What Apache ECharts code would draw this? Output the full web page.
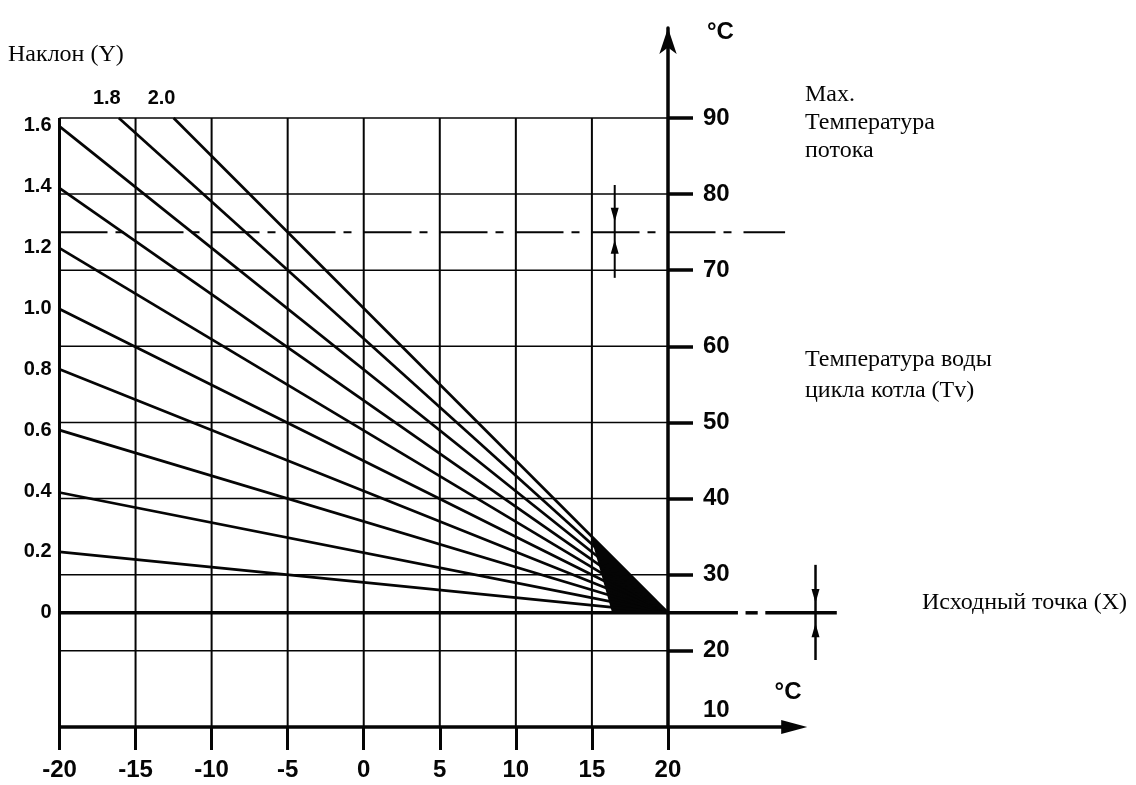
<!DOCTYPE html>
<html>
<head>
<meta charset="utf-8">
<title>Кривые нагрева</title>
<script src="https://cdn.jsdelivr.net/npm/echarts@6/dist/echarts.min.js"></script>
<style>
  html, body { margin: 0; padding: 0; background: #fff; }
  #chart { width: 1136px; height: 785px; }
</style>
</head>
<body>
<div id="chart"></div>
<script>
// outside temperature (°C), bottom axis
const xTicks = [-20, -15, -10, -5, 0, 5, 10, 15, 20]
// boiler water temperature (°C), right axis
const tempTicks = [10, 20, 30, 40, 50, 60, 70, 80, 90]
// slope values written on the left
const slopeTicks = [0, 0.2, 0.4, 0.6, 0.8, 1.0, 1.2, 1.4, 1.6]
// heating curves: start point [outside temp, flow temp], all meet in basePoint
const curveNames = ['0.2', '0.4', '0.6', '0.8', '1.0', '1.2', '1.4', '1.6', '1.8', '2.0']
const curveStarts = [[-20, 33], [-20, 40.8], [-20, 49], [-20, 57], [-20, 64.9], [-20, 72.9], [-20, 80.8], [-20, 88.9], [-16.1, 90], [-12.5, 90]]
const basePoint = [20, 25]
// dark wedge where the curves run together
const wedge = [[14.9, 35.2], [16.3, 25.2], [20, 25]]
// thick base line (X) pieces, in outside temp units
const baseSegments = [[-20, 24.6], [25.1, 25.9], [26.4, 31.1]]
// max flow temperature line
const maxFlowTemp = 75
const maxFlowEnd = 27.7
// adjust markers: x, top, bottom, arrow heads [down, up]
const maxMarker = { x: 16.5, top: 81.2, bottom: 69, heads: [77.3, 73.1] }
const baseMarker = { x: 29.7, top: 31.3, bottom: 18.8, heads: [27.2, 22.7] }
// bottom axis arrow: line end and head centre
const xArrowEnd = 28.0
const xArrowHead = 28.3

const ink = '#050505'
const sans = 'Liberation Sans, Arial, sans-serif'
const serif = 'Liberation Serif, Times New Roman, serif'

// slope k sits at 25 + 40k °C on the left edge
const slopeBase = 25
const slopeStep = 40
const tMin = 10
const tMax = 101.82
const xMin = -20
const xMax = 31.31

let chart = echarts.init(document.getElementById('chart'))

function seg (points, width, lineType) {
  return {
    type: 'line',
    data: points,
    symbol: 'none',
    silent: true,
    clip: false,
    lineStyle: { color: ink, width: width, type: lineType || 'solid' }
  }
}

function heads (m) {
  return {
    type: 'scatter',
    silent: true,
    clip: false,
    symbol: 'triangle',
    symbolSize: [8, 14],
    itemStyle: { color: ink, opacity: 1 },
    data: [
      { value: [m.x, m.heads[0]], symbolRotate: 180 },
      { value: [m.x, m.heads[1]], symbolRotate: 0 }
    ]
  }
}

let series = []
// vertical grid
xTicks.slice(0, -1).forEach(x => {
  series.push(seg([[x, tempTicks[0]], [x, tempTicks[tempTicks.length - 1]]], x === xMin ? 3 : 2))
})
// horizontal grid
tempTicks.slice(1).forEach(t => {
  series.push(seg([[xMin, t], [20, t]], 1.5))
})
// heating curves
curveStarts.forEach(p => {
  series.push(seg([p, basePoint], 2.7))
})
series.push({
  type: 'custom',
  silent: true,
  clip: false,
  data: [0],
  renderItem: (params, api) => ({
    type: 'polygon',
    shape: { points: wedge.map(p => api.coord(p)) },
    style: { fill: ink }
  })
})
// base line
baseSegments.forEach(s => {
  series.push(seg([[s[0], basePoint[1]], [s[1], basePoint[1]]], 3.5))
})
// max flow temperature
series.push(seg([[xMin, maxFlowTemp], [maxFlowEnd, maxFlowTemp]], 2, [48, 8, 8, 12]))
// markers
series.push(seg([[maxMarker.x, maxMarker.top], [maxMarker.x, maxMarker.bottom]], 2))
series.push(heads(maxMarker))
series.push(seg([[baseMarker.x, baseMarker.top], [baseMarker.x, baseMarker.bottom]], 2.5))
series.push(heads(baseMarker))
// bottom axis line with arrow
series.push(seg([[xMin, tMin], [xArrowEnd, tMin]], 3.5))
series.push({
  type: 'scatter',
  silent: true,
  clip: false,
  symbol: 'triangle',
  symbolSize: [14, 26],
  symbolRotate: -90,
  itemStyle: { color: ink, opacity: 1 },
  data: [[xArrowHead, tMin]]
})
// names of the two top curves
series.push({
  type: 'scatter',
  silent: true,
  symbolSize: 1,
  itemStyle: { color: 'transparent', opacity: 1 },
  label: {
    show: true,
    formatter: '{b}',
    position: 'top',
    distance: 5,
    offset: [-12, -4],
    color: ink,
    opacity: 1,
    fontFamily: sans,
    fontWeight: 'bold',
    fontSize: 20
  },
  data: [8, 9].map(i => ({ name: curveNames[i], value: curveStarts[i] }))
})

chart.setOption({
  animation: false,
  backgroundColor: '#fff',
  grid: {
    left: 59.5,
    top: 28,
    right: 296,
    bottom: 58,
    outerBoundsMode: 'none'
  },
  xAxis: {
    type: 'value',
    min: xMin,
    max: xMax,
    splitLine: { show: false },
    axisLine: { show: false, onZero: false },
    axisTick: {
      show: true,
      customValues: xTicks,
      length: 23,
      lineStyle: { color: ink, width: 3 }
    },
    axisLabel: {
      customValues: xTicks,
      margin: 31,
      color: ink,
      fontFamily: sans,
      fontWeight: 'bold',
      fontSize: 24
    },
    name: '°C',
    nameLocation: 'end',
    nameGap: -52,
    nameTextStyle: {
      color: ink,
      fontFamily: sans,
      fontWeight: 'bold',
      fontSize: 24,
      align: 'center',
      verticalAlign: 'bottom',
      padding: [0, 0, 23, 0]
    }
  },
  yAxis: [
    {
      type: 'value',
      position: 'right',
      offset: -172,
      min: tMin,
      max: tMax,
      splitLine: { show: false },
      axisLine: {
        onZero: false,
        lineStyle: { color: ink, width: 3.5 },
        symbol: ['none', 'arrow'],
        symbolSize: [13, 26]
      },
      axisTick: {
        customValues: tempTicks.slice(1),
        length: 25,
        lineStyle: { color: ink, width: 3.5 }
      },
      axisLabel: {
        customValues: tempTicks,
        margin: 35,
        color: ink,
        fontFamily: sans,
        fontWeight: 'bold',
        fontSize: 24,
        formatter: v => v === tMin ? '{lo|' + v + '}' : '' + v,
        rich: {
          lo: {
            color: ink,
            fontFamily: sans,
            fontWeight: 'bold',
            fontSize: 24,
            padding: [0, 0, 34, 0]
          }
        }
      },
      name: '°C',
      nameLocation: 'end',
      nameGap: -4,
      nameTextStyle: {
        color: ink,
        fontFamily: sans,
        fontWeight: 'bold',
        fontSize: 24,
        align: 'left',
        verticalAlign: 'middle',
        padding: [0, 0, 0, 39]
      }
    },
    {
      type: 'value',
      position: 'left',
      min: (tMin - slopeBase) / slopeStep,
      max: (tMax - slopeBase) / slopeStep,
      splitLine: { show: false },
      axisLine: { show: false, onZero: false },
      axisTick: { show: false },
      axisLabel: {
        customValues: slopeTicks,
        margin: 8,
        color: ink,
        fontFamily: sans,
        fontWeight: 'bold',
        fontSize: 20,
        formatter: v => v === 0 ? '0' : v.toFixed(1)
      }
    }
  ],
  graphic: [
    {
      type: 'text',
      left: 8,
      top: 43,
      style: { text: 'Наклон (Y)', fontFamily: serif, fontSize: 24, fill: ink }
    },
    {
      type: 'text',
      left: 805,
      top: 81,
      style: { text: 'Max.\nТемпература\nпотока', fontFamily: serif, fontSize: 24, lineHeight: 28, fill: ink }
    },
    {
      type: 'text',
      left: 805,
      top: 344,
      style: { text: 'Температура воды\nцикла котла (Tv)', fontFamily: serif, fontSize: 24, lineHeight: 31, fill: ink }
    },
    {
      type: 'text',
      left: 922,
      top: 591,
      style: { text: 'Исходный точка (X)', fontFamily: serif, fontSize: 24, fill: ink }
    }
  ],
  series: series
})
</script>
</body>
</html>
